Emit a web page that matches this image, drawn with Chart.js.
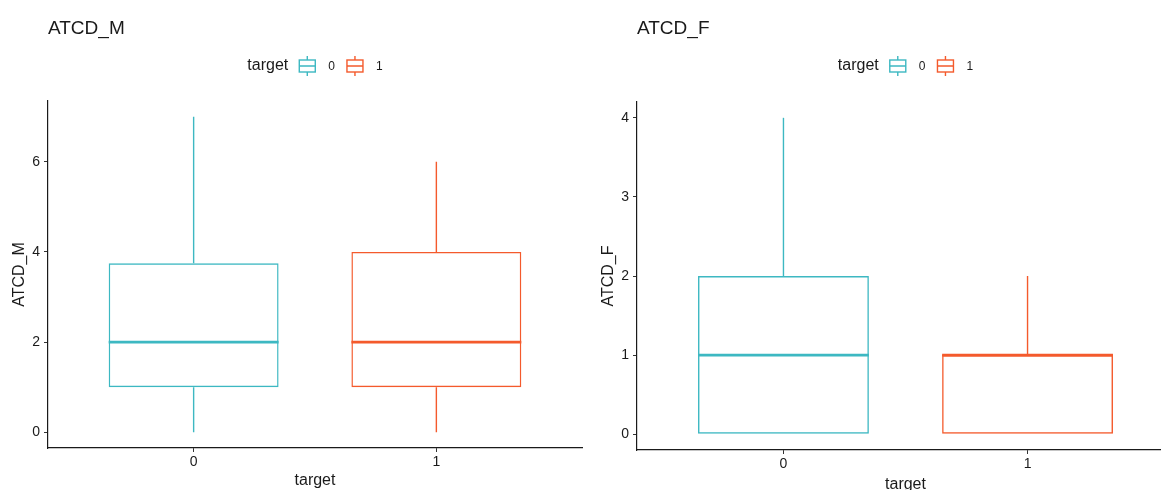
<!DOCTYPE html>
<html>
<head>
<meta charset="utf-8">
<script src="https://cdn.jsdelivr.net/npm/chart.js@4.4.0/dist/chart.umd.min.js"></script>
<style>
  html, body { margin: 0; padding: 0; background: #fff; overflow: hidden; width: 1161px; height: 490px; }
  .panel { position: absolute; top: 0; }
</style>
</head>
<body>
<div class="panel" style="left:0"><canvas id="chartM" width="590" height="490"></canvas></div>
<div class="panel" style="left:590px"><canvas id="chartF" width="600" height="494"></canvas></div>
<script>
// groups (x categories) and their colours
const groups = ['0', '1'];
const groupPos = [0, 1];
const groupColors = ['#3DB8C2', '#F45A2C'];

// ATCD_M box statistics per group
const mMin = [0, 0];
const mQ1 = [1, 1];
const mMedian = [2, 2];
const mQ3 = [3.75, 4];
const mMax = [7, 6];
const mTicks = [0, 2, 4, 6];

// ATCD_F box statistics per group
const fMin = [0, 0];
const fQ1 = [0, 0];
const fMedian = [1, 1];
const fQ3 = [2, 1];
const fMax = [4, 2];
const fTicks = [0, 1, 2, 3, 4];

const FONT = "'Liberation Sans', Arial, sans-serif";
const INK = '#1a1a1a';

// draws whiskers, medians, the panel title and the inline legend
const boxExtras = {
  id: 'boxExtras',
  afterDatasetsDraw(chart, args, opts) {
    const ctx = chart.ctx;
    const y = chart.scales.y;
    const meta = chart.getDatasetMeta(0);
    const s = opts.stats;
    ctx.save();
    meta.data.forEach((bar, i) => {
      const x = bar.x, w = bar.width;
      ctx.strokeStyle = groupColors[i];
      ctx.lineWidth = 1.4;
      ctx.beginPath();
      ctx.moveTo(x, y.getPixelForValue(s.q3[i]));
      ctx.lineTo(x, y.getPixelForValue(s.max[i]));
      ctx.moveTo(x, y.getPixelForValue(s.q1[i]));
      ctx.lineTo(x, y.getPixelForValue(s.min[i]));
      ctx.stroke();
      ctx.lineWidth = 2.6;
      ctx.beginPath();
      const my = y.getPixelForValue(s.median[i]);
      ctx.moveTo(x - w / 2, my);
      ctx.lineTo(x + w / 2, my);
      ctx.stroke();
    });
    ctx.restore();
  },
  afterDraw(chart, args, opts) {
    const ctx = chart.ctx;
    const area = chart.chartArea;
    ctx.save();
    // panel title
    ctx.fillStyle = INK;
    ctx.font = '19px ' + FONT;
    ctx.textBaseline = 'alphabetic';
    ctx.textAlign = 'left';
    ctx.fillText(opts.title, opts.titleX, 34);

    // legend: "target" [icon] 0 [icon] 1
    ctx.font = '16px ' + FONT;
    const headW = ctx.measureText('target').width;
    ctx.font = '12px ' + FONT;
    const labW = groups.map(g => ctx.measureText(g).width);
    const iconW = 20, gapHead = 9, gapIcon = 11, gapItem = 10;
    let total = headW + gapHead;
    groups.forEach((g, i) => { total += iconW + gapIcon + labW[i] + (i < groups.length - 1 ? gapItem : 0); });
    let lx = (area.left + area.right) / 2 - total / 2;
    const cy = 66;
    ctx.textBaseline = 'middle';
    ctx.font = '16px ' + FONT;
    ctx.fillStyle = INK;
    ctx.fillText('target', lx, cy);
    lx += headW + gapHead;
    groups.forEach((g, i) => {
      ctx.strokeStyle = groupColors[i];
      ctx.lineWidth = 1.4;
      const bx = lx + 2, bw = iconW - 4;
      ctx.strokeRect(bx, cy - 6, bw, 12);
      ctx.beginPath();
      ctx.moveTo(bx, cy); ctx.lineTo(bx + bw, cy);
      ctx.moveTo(lx + iconW / 2, cy - 6); ctx.lineTo(lx + iconW / 2, cy - 10);
      ctx.moveTo(lx + iconW / 2, cy + 6); ctx.lineTo(lx + iconW / 2, cy + 10);
      ctx.stroke();
      lx += iconW + gapIcon;
      ctx.font = '12px ' + FONT;
      ctx.fillStyle = INK;
      ctx.fillText(g, lx, cy + 1);
      lx += labW[i] + gapItem;
    });
    ctx.restore();
  }
};

function makePanel(id, name, stats, ticks, yMin, yMax, o) {
  return new Chart(document.getElementById(id), {
    type: 'bar',
    data: {
      datasets: [{
        data: groupPos.map((x, i) => ({ x: x, y: [stats.q1[i], stats.q3[i]] })),
        borderColor: groupColors,
        backgroundColor: 'rgba(0,0,0,0)',
        borderWidth: 1.4,
        borderSkipped: false,
        categoryPercentage: 0.7,
        barPercentage: 1
      }]
    },
    options: {
      responsive: false,
      animation: false,
      events: [],
      layout: { padding: { top: o.top, left: 0, right: o.right, bottom: 0 } },
      plugins: {
        legend: { display: false },
        tooltip: { enabled: false },
        boxExtras: { stats: stats, title: name, titleX: o.titleX }
      },
      scales: {
        x: {
          type: 'linear',
          min: -0.6,
          max: 1.6,
          offset: false,
          afterBuildTicks: s => { s.ticks = groupPos.map(v => ({ value: v })); },
          afterFit: s => { s.height = o.xHeight; },
          ticks: {
            callback: (v, i) => groups[i],
            font: { family: FONT, size: 14 },
            color: INK,
            padding: 2,
            maxRotation: 0
          },
          grid: { offset: false, drawOnChartArea: false, drawTicks: true, tickLength: 4, tickColor: '#333', tickWidth: 1 },
          border: { display: true, color: INK, width: 1.2 },
          title: { display: true, text: 'target', font: { family: FONT, size: 16 }, color: INK, padding: { top: 0, bottom: 0 } }
        },
        y: {
          type: 'linear',
          min: yMin,
          max: yMax,
          afterBuildTicks: s => { s.ticks = ticks.map(v => ({ value: v })); },
          afterFit: s => { s.width = o.yWidth; },
          ticks: {
            font: { family: FONT, size: 14 },
            color: INK,
            padding: 4
          },
          grid: { drawOnChartArea: false, drawTicks: true, tickLength: 4, tickColor: '#333', tickWidth: 1 },
          border: { display: true, color: INK, width: 1.2 },
          title: { display: true, text: name, font: { family: FONT, size: 16 }, color: INK, padding: { top: o.yTitlePad, bottom: 0 } }
        }
      }
    },
    plugins: [boxExtras]
  });
}

makePanel('chartM', 'ATCD_M',
  { min: mMin, q1: mQ1, median: mMedian, q3: mQ3, max: mMax },
  mTicks, -0.35, 7.35,
  { top: 101, right: 8, xHeight: 42, yWidth: 48, yTitlePad: 10, titleX: 48 });

makePanel('chartF', 'ATCD_F',
  { min: fMin, q1: fQ1, median: fMedian, q3: fQ3, max: fMax },
  fTicks, -0.2, 4.2,
  { top: 102, right: 16, xHeight: 44, yWidth: 47, yTitlePad: 9, titleX: 47 });
</script>
</body>
</html>
